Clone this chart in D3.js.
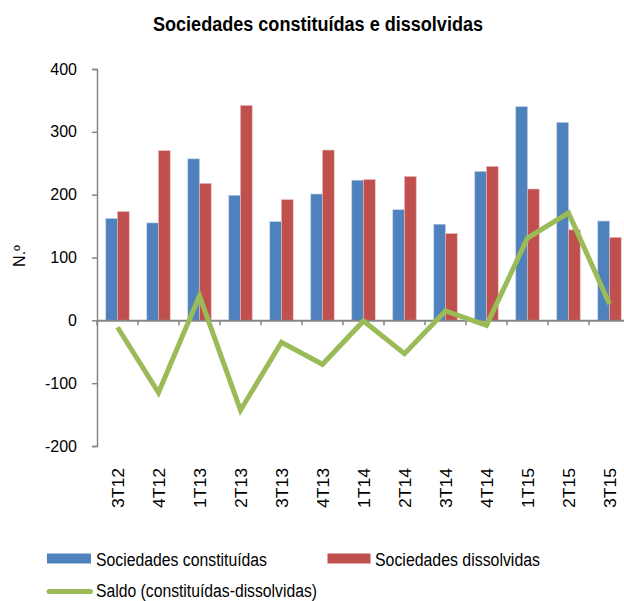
<!DOCTYPE html>
<html lang="en">
<head>
<meta charset="UTF-8">
<title>Sociedades constituídas e dissolvidas</title>
<style>
    body { margin: 0; background: #fff; }
    svg { display: block; font-family: "Liberation Sans", Arial, sans-serif; }
</style>
<script src="https://cdn.jsdelivr.net/npm/d3@7"></script>
</head>
<body>
<svg width="624" height="601"></svg>
<script>
    var quarters = ["3T12", "4T12", "1T13", "2T13", "3T13", "4T13", "1T14", "2T14", "3T14", "4T14", "1T15", "2T15", "3T15"];
    var constituidas = [162, 155, 257, 199, 157, 201, 223, 176, 153, 237, 340, 315, 158];
    var dissolvidas = [173, 270, 218, 342, 192, 271, 224, 229, 138, 245, 209, 144, 132];
    var saldo = [-11, -115, 39, -143, -35, -70, -1, -53, 15, -8, 131, 171, 26];
    var yTicks = [-200, -100, 0, 100, 200, 300, 400];

    var svg = d3.select("svg");
    var plotLeft = 97, plotTop = 69, plotBottom = 446, step = 41;

    var x = d3.scaleBand().domain(quarters).range([plotLeft, plotLeft + step * quarters.length]);
    var y = d3.scaleLinear().domain([-200, 400]).range([plotBottom, plotTop]);
    var barW = 11.7;

    svg.append("text")
        .attr("x", 318).attr("y", 31)
        .attr("text-anchor", "middle")
        .attr("textLength", 330).attr("lengthAdjust", "spacingAndGlyphs")
        .style("font-size", "20px").style("font-weight", "bold")
        .text("Sociedades constituídas e dissolvidas");

    // y axis (plain hyphen for negatives, like the source)
    var yAxis = svg.append("g")
        .attr("transform", "translate(" + plotLeft + ",0)")
        .call(d3.axisLeft(y).tickValues(yTicks).tickSize(5).tickPadding(15)
            .tickFormat(function(d) { return String(d); }));
    yAxis.select(".domain").attr("stroke", "#868686").attr("stroke-width", 1.5);
    yAxis.selectAll(".tick line").attr("stroke", "#868686").attr("stroke-width", 1.5);
    yAxis.selectAll("text").style("font-size", "16px").attr("fill", "#000");

    svg.append("text")
        .attr("transform", "translate(19.5,256) rotate(-90)")
        .attr("text-anchor", "middle")
        .attr("dy", "0.35em")
        .style("font-size", "16px")
        .text("N.º");

    // bars
    svg.append("g").selectAll("rect")
        .data(constituidas)
        .join("rect")
        .attr("x", function(d, i) { return x(quarters[i]) + x.bandwidth() / 2 - barW; })
        .attr("y", function(d) { return y(d); })
        .attr("width", barW)
        .attr("height", function(d) { return y(0) - y(d); })
        .attr("fill", "#4F81BD")
        .attr("stroke", "#b9cde5").attr("stroke-width", 0.6);

    svg.append("g").selectAll("rect")
        .data(dissolvidas)
        .join("rect")
        .attr("x", function(d, i) { return x(quarters[i]) + x.bandwidth() / 2; })
        .attr("y", function(d) { return y(d); })
        .attr("width", barW)
        .attr("height", function(d) { return y(0) - y(d); })
        .attr("fill", "#C0504D")
        .attr("stroke", "#e6b9b8").attr("stroke-width", 0.6);

    // x axis at zero
    var xAxis = svg.append("g")
        .attr("transform", "translate(0," + y(0) + ")")
        .call(d3.axisBottom(x).tickSize(0).tickFormat(""));
    xAxis.select(".domain").attr("stroke", "#868686").attr("stroke-width", 2);
    xAxis.selectAll(".tick").remove();
    xAxis.selectAll(".sep")
        .data(d3.range(quarters.length + 1))
        .join("line")
        .attr("x1", function(i) { return plotLeft + i * x.step(); })
        .attr("x2", function(i) { return plotLeft + i * x.step(); })
        .attr("y1", 0).attr("y2", 5)
        .attr("stroke", "#868686").attr("stroke-width", 1.5);

    // category labels
    svg.append("g").selectAll("text")
        .data(quarters)
        .join("text")
        .attr("transform", function(d) { return "translate(" + (x(d) + x.bandwidth() / 2 + 0.8) + ",468) rotate(-90)"; })
        .attr("dy", "0.35em")
        .attr("text-anchor", "end")
        .attr("textLength", 40).attr("lengthAdjust", "spacingAndGlyphs")
        .style("font-size", "16px")
        .text(function(d) { return d; });

    // saldo line
    var line = d3.line()
        .x(function(d, i) { return x(quarters[i]) + x.bandwidth() / 2; })
        .y(function(d) { return y(d); });
    svg.append("path")
        .datum(saldo)
        .attr("d", line)
        .attr("fill", "none")
        .attr("stroke", "#9BBB59")
        .attr("stroke-width", 5);

    // legend
    var legend = svg.append("g").style("font-size", "18px");
    legend.append("rect").attr("x", 47).attr("y", 553.5).attr("width", 44).attr("height", 10).attr("fill", "#4F81BD");
    legend.append("text").attr("x", 96).attr("y", 566)
        .attr("textLength", 171).attr("lengthAdjust", "spacingAndGlyphs")
        .text("Sociedades constituídas");
    legend.append("rect").attr("x", 327.5).attr("y", 553.5).attr("width", 43).attr("height", 10).attr("fill", "#C0504D");
    legend.append("text").attr("x", 375).attr("y", 566)
        .attr("textLength", 165).attr("lengthAdjust", "spacingAndGlyphs")
        .text("Sociedades dissolvidas");
    legend.append("line").attr("x1", 49).attr("x2", 90.5).attr("y1", 591.5).attr("y2", 591.5)
        .attr("stroke", "#9BBB59").attr("stroke-width", 5).attr("stroke-linecap", "round");
    legend.append("text").attr("x", 96).attr("y", 596.5)
        .attr("textLength", 221).attr("lengthAdjust", "spacingAndGlyphs")
        .text("Saldo (constituídas-dissolvidas)");
</script>
</body>
</html>
